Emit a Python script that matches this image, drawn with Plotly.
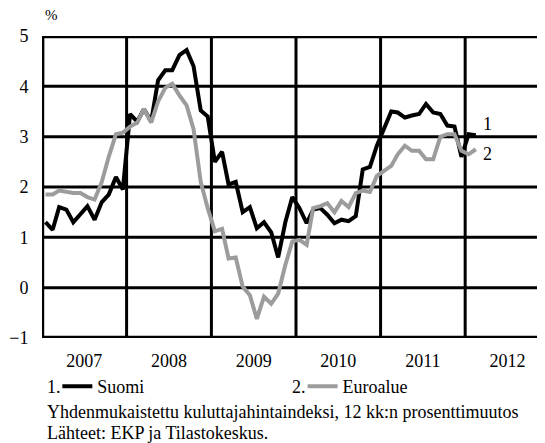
import pandas as pd
import plotly.graph_objects as go

# ---- data ----
months = pd.date_range("2007-01-01", periods=62, freq="MS") + pd.Timedelta(days=15)
suomi = [1.3, 1.15, 1.6, 1.55, 1.3, 1.45, 1.62, 1.35, 1.7, 1.85, 2.2, 1.95,
         3.45, 3.3, 3.55, 3.3, 4.12, 4.32, 4.32, 4.62, 4.72, 4.4, 3.52, 3.4,
         2.5, 2.7, 2.05, 2.1, 1.5, 1.6, 1.18, 1.3, 1.1, 0.6, 1.3, 1.8,
         1.58, 1.28, 1.55, 1.58, 1.45, 1.28, 1.35, 1.32, 1.42, 2.35, 2.4, 2.82,
         3.15, 3.5, 3.48, 3.38, 3.42, 3.45, 3.65, 3.48, 3.45, 3.22, 3.2, 2.6,
         3.05, 3.03]
euroalue = [1.85, 1.85, 1.93, 1.9, 1.88, 1.88, 1.8, 1.75, 2.1, 2.6, 3.05, 3.08,
            3.2, 3.28, 3.55, 3.28, 3.7, 3.97, 4.05, 3.82, 3.62, 3.15, 2.1, 1.58,
            1.12, 1.17, 0.58, 0.6, 0.02, -0.15, -0.62, -0.18, -0.32, -0.12, 0.45, 0.92,
            0.95, 0.85, 1.58, 1.62, 1.68, 1.5, 1.72, 1.6, 1.88, 1.93, 1.9, 2.22,
            2.32, 2.42, 2.65, 2.82, 2.72, 2.72, 2.55, 2.55, 3.0, 3.05, 3.05, 2.72,
            2.65, 2.75]
years = [2007, 2008, 2009, 2010, 2011, 2012]
y_ticks = [-1, 0, 1, 2, 3, 4, 5]
y_ticktext = ["\u22121", "0", "1", "2", "3", "4", "5"]
series_names = ["Suomi", "Euroalue"]
footnotes = ["Yhdenmukaistettu kuluttajahintaindeksi, 12 kk:n prosenttimuutos",
             "Lähteet: EKP ja Tilastokeskus."]

FONT = "Liberation Serif, Times New Roman, serif"
GREY = "#9c9c9c"
FS = 18
X_START, X_END = "2007-01-01", "2013-01-14"

fig = go.Figure()

# one trace per interior grid line, built from the tick lists
for yr in years[1:]:
    fig.add_trace(go.Scatter(x=[f"{yr}-01-01", f"{yr}-01-01"], y=[y_ticks[0], y_ticks[-1]],
                             mode="lines", line=dict(color="black", width=3),
                             showlegend=False, hoverinfo="skip"))
for yv in y_ticks[1:-1]:
    fig.add_trace(go.Scatter(x=[X_START, X_END], y=[yv, yv],
                             mode="lines", line=dict(color="black", width=3),
                             showlegend=False, hoverinfo="skip"))
# frame: top edge, then left + bottom edges (half of each stroke is clipped)
fig.add_trace(go.Scatter(x=[X_START, X_START, X_END, X_END, None, X_START, X_START, X_END],
                         y=[y_ticks[-2], y_ticks[-1], y_ticks[-1], y_ticks[-2], None,
                            y_ticks[-1], y_ticks[0], y_ticks[0]],
                         mode="lines", connectgaps=False,
                         line=dict(color="black", width=4.4),
                         showlegend=False, hoverinfo="skip"))

fig.add_trace(go.Scatter(x=months, y=suomi, mode="lines", name=series_names[0],
                         line=dict(color="black", width=4), legend="legend"))
fig.add_trace(go.Scatter(x=months, y=euroalue, mode="lines", name=series_names[1],
                         line=dict(color=GREY, width=4), legend="legend2"))

leg_common = dict(orientation="h", xanchor="left", yanchor="middle", y=-0.161,
                  font=dict(family=FONT, size=FS), bgcolor="rgba(0,0,0,0)",
                  borderwidth=0, itemclick=False, itemdoubleclick=False)

# page body has an 8px margin: layout margins compensate for it
fig.update_layout(
    template="none",
    width=545, height=443,
    margin=dict(l=34, r=0, t=28, b=113),
    paper_bgcolor="white", plot_bgcolor="rgba(0,0,0,0)",
    font=dict(family=FONT, size=FS, color="black"),
    showlegend=True,
    legend=dict(x=0.03, **leg_common),
    legend2=dict(x=0.51, **leg_common),
    xaxis=dict(type="date", range=[X_START, X_END],
               tick0="2007-01-01", dtick="M12", tickformat="%Y",
               ticklabelmode="period", showgrid=True, gridcolor="red", gridwidth=1.5,
               showline=False,
               ticks="outside", ticklen=6, tickcolor="rgba(0,0,0,0)"),
    yaxis=dict(range=[-1, 5], tickvals=y_ticks, ticktext=y_ticktext,
               showgrid=True, gridcolor="red", gridwidth=1.5, zeroline=False,
               showline=False,
               ticks="outside", ticklen=9, tickcolor="rgba(0,0,0,0)"),
)

ann = []
ann.append(dict(text="%", xref="paper", yref="paper", x=0.002, y=1.07,
                xanchor="left", yanchor="middle", showarrow=False,
                font=dict(family=FONT, size=15)))
ann.append(dict(text="1", x="2012-04-08", y=3.26, xanchor="center", yanchor="middle",
                showarrow=False))
ann.append(dict(text="2", x="2012-04-08", y=2.66, xanchor="center", yanchor="middle",
                showarrow=False))
ann.append(dict(text="1.", xref="paper", yref="paper", x=0.006, y=-0.161,
                xanchor="left", yanchor="middle", showarrow=False))
ann.append(dict(text="2.", xref="paper", yref="paper", x=0.485, y=-0.161,
                xanchor="left", yanchor="middle", showarrow=False))
ann.append(dict(text=footnotes[0], xref="paper", yref="paper", x=0.006, y=-0.244,
                xanchor="left", yanchor="middle", showarrow=False))
ann.append(dict(text=footnotes[1], xref="paper", yref="paper", x=0.006, y=-0.3146,
                xanchor="left", yanchor="middle", showarrow=False))
fig.update_layout(annotations=ann)

fig.write_html("out.html")
